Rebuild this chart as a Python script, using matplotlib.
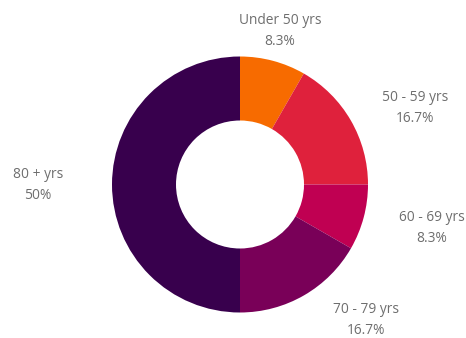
import matplotlib
matplotlib.use("Agg")
import matplotlib.pyplot as plt

# age groups of the donut, clockwise from 12 o'clock
labels = ["Under 50 yrs", "50 - 59 yrs", "60 - 69 yrs", "70 - 79 yrs", "80 + yrs"]
shares = [8.3, 16.7, 8.3, 16.7, 50]
pct_text = ["8.3%", "16.7%", "8.3%", "16.7%", "50%"]
colors = ["#F76B00", "#DF213C", "#C00052", "#790058", "#38004D"]

W, H = 466, 338
fig = plt.figure(figsize=(W / 100, H / 100), dpi=100)
ax = fig.add_axes([0, 0, 1, 1])

cx, cy, r = 240, H - 184.5, 128
ax.pie(shares, colors=colors, startangle=90, counterclock=False,
       center=(cx, cy), radius=r, frame=True,
       wedgeprops=dict(width=r * 0.5, linewidth=0))
ax.set_xlim(0, W)
ax.set_ylim(0, H)
ax.set_aspect("equal")
ax.axis("off")

# label anchor points in pixel coords (x, y from top)
label_pos = [(280, 31), (415, 108), (432, 228), (366, 320), (38, 185)]
for (x, y), name, p in zip(label_pos, labels, pct_text):
    ax.text(x, H - y, name + "\n" + p, ha="center", va="center",
            fontsize=9.9, family="Open Sans",
            color="#6e6e6e", linespacing=1.55)

fig.savefig("out.png", dpi=100)
